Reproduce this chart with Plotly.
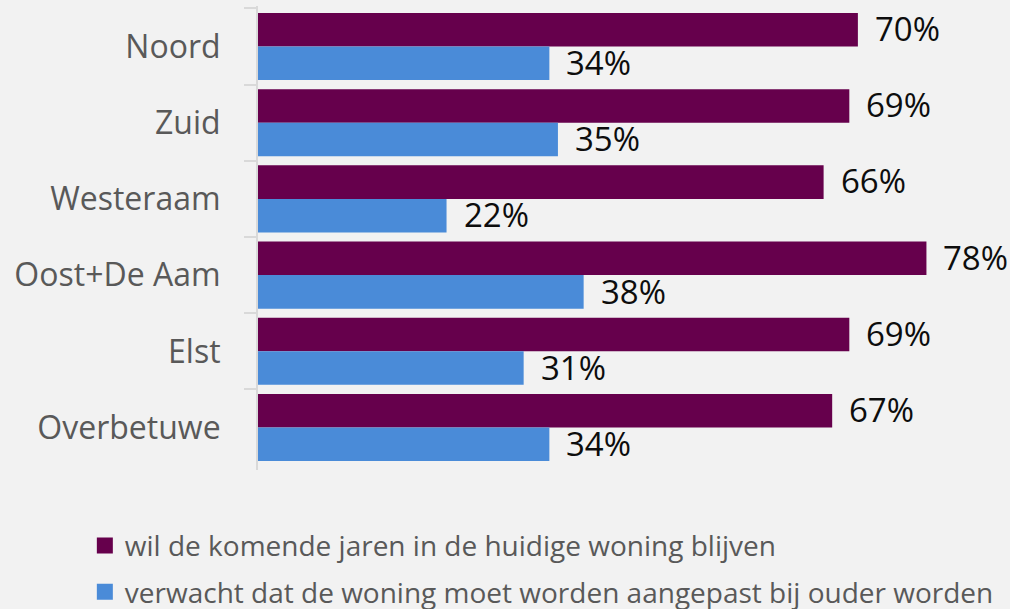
import plotly.graph_objects as go

# --- data ---
regions = ["Noord", "Zuid", "Westeraam", "Oost+De Aam", "Elst", "Overbetuwe"]
stay = [0.70, 0.69, 0.66, 0.78, 0.69, 0.67]
adapt = [0.34, 0.35, 0.22, 0.38, 0.31, 0.34]

stay_name = "wil de komende jaren in de huidige woning blijven"
adapt_name = "verwacht dat de woning moet worden aangepast bij ouder worden"

PURPLE = "#66004c"
BLUE = "#4a8bd8"
GREY = "#595959"
FONT = "Open Sans"

fig = go.Figure()

series = [(stay, PURPLE, stay_name, 18), (adapt, BLUE, adapt_name, -16)]

for values, color, name, shift in series:
    fig.add_trace(go.Bar(
        y=regions, x=values, orientation="h",
        marker=dict(color=color, line=dict(width=0)),
        name=name, showlegend=False, hoverinfo="skip",
    ))
    # bigger legend squares than the bar default
    fig.add_trace(go.Scatter(
        x=[None], y=[None], mode="markers", name=name, legendgroup=name,
        marker=dict(symbol="square", size=16, color=color),
    ))
    for reg, v in zip(regions, values):
        fig.add_annotation(
            x=v, y=reg, text=f"{v:.0%}", showarrow=False,
            xanchor="left", xshift=15, yshift=shift,
            font=dict(family=FONT, size=33, color="#0d0d0d"),
        )

fig.update_layout(
    width=1010, height=609,
    barmode="group", bargap=0.12, bargroupgap=0,
    paper_bgcolor="#f2f2f2", plot_bgcolor="#f2f2f2",
    margin=dict(l=258, r=0, t=6, b=139, autoexpand=False),
    font=dict(family=FONT, color=GREY),
    showlegend=True,
    legend=dict(
        orientation="v", xref="container", yref="container",
        x=0.084, y=0.145, xanchor="left", yanchor="top",
        font=dict(family=FONT, size=28, color=GREY),
        tracegroupgap=7, bgcolor="rgba(0,0,0,0)",
    ),
)

fig.update_xaxes(range=[0, 0.8775], visible=False, showgrid=False, zeroline=False)
fig.update_yaxes(
    autorange="reversed", tickson="boundaries",
    ticks="outside", ticklen=12, tickwidth=2, tickcolor="#d9d9d9",
    showline=True, linecolor="#d9d9d9", linewidth=2,
    showgrid=False, ticklabelstandoff=29,
    tickfont=dict(family=FONT, size=32, color=GREY),
)

fig.write_html(
    "out.html",
    config={"displayModeBar": False},
    post_script="document.body.style.margin='0';",
)
